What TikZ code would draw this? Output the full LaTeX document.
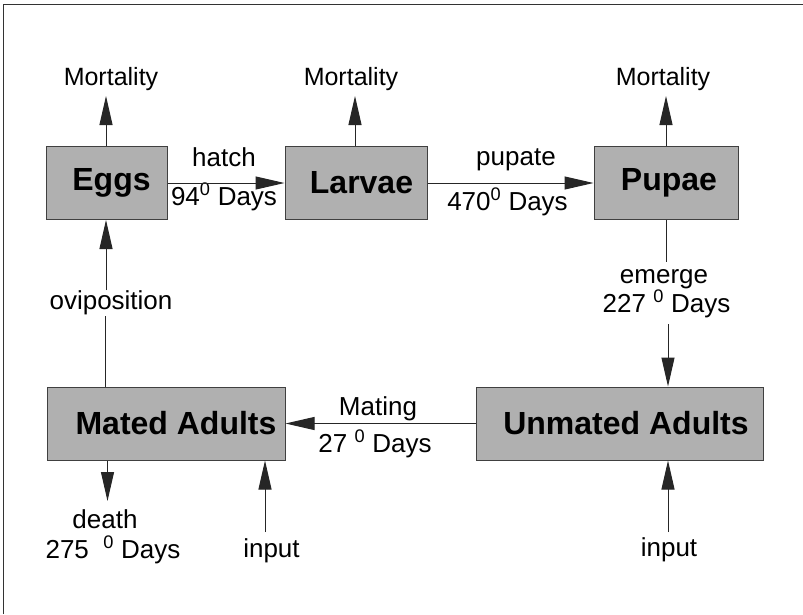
\documentclass[tikz,border=0pt]{standalone}
\usepackage{fontspec}
\setmainfont{Liberation Sans}
\usetikzlibrary{arrows.meta}
\definecolor{boxgray}{gray}{0.69}
\tikzset{
  stagebox/.style={draw=black!75, line width=1pt, fill=boxgray, inner sep=0pt,
    font=\fontsize{32}{36}\selectfont\bfseries},
  lbl/.style={inner sep=0pt, anchor=base, font=\fontsize{26}{30}\selectfont},
  flow/.style={line width=1pt, black!85},
  arr/.style={flow, -{Triangle[length=29pt,width=13pt]}},
}
\newcommand{\degsup}{\textsuperscript{0}}
\begin{document}
\begin{tikzpicture}[x=1pt,y=-1pt]
\useasboundingbox (0,0) rectangle (803,614);
\fill[white] (0,0) rectangle (803,614);
% frame
\draw[black!80, line width=1.5pt] (3.5,614) -- (3.5,4.5) -- (803,4.5);

% boxes
\node[stagebox, minimum width=121pt, minimum height=73pt] (eggs) at (107,183) {\hspace*{9pt}Eggs};
\node[stagebox, minimum width=142pt, minimum height=73pt] (larvae) at (356,183) {\hspace*{11pt}Larvae};
\node[stagebox, minimum width=144pt, minimum height=73pt] (pupae) at (666,183) {\hspace*{6pt}Pupae};
\node[stagebox, minimum width=238pt, minimum height=73pt] (mated) at (166,423.5) {\hspace*{20pt}Mated Adults};
\node[stagebox, minimum width=287pt, minimum height=73pt] (unmated) at (619.5,423.5) {\hspace*{13pt}Unmated Adults};

% labels
\node[lbl, font=\fontsize{25}{30}\selectfont] (m1) at (111,85) {Mortality};
\node[lbl, font=\fontsize{25}{30}\selectfont] (m2) at (351,85) {Mortality};
\node[lbl, font=\fontsize{25}{30}\selectfont] (m3) at (663,85) {Mortality};
\node[lbl] (hatch) at (224,166) {hatch};
\node[lbl] (hatchd) at (224,205) {94\degsup{} Days};
\node[lbl] (pupate) at (516,165) {pupate};
\node[lbl] (pupated) at (507.5,210) {470\degsup{} Days};
\node[lbl] (emerge) at (664,283) {emerge};
\node[lbl] (emerged) at (666.5,312) {227 \degsup{} Days};
\node[lbl] (mating) at (378,415) {Mating};
\node[lbl] (matingd) at (375,452) {27 \degsup{} Days};
\node[lbl] (ovi) at (111,309) {oviposition};
\node[lbl] (death) at (105,528) {death};
\node[lbl] (deathd) at (113,558) {275 \ \degsup{} Days};
\node[lbl] (in1) at (271.5,557) {input};
\node[lbl] (in2) at (669,556) {input};

% free ends
\coordinate (t1) at (106,96);
\coordinate (t2) at (355,96);
\coordinate (t3) at (666,96);
\coordinate (e1) at (666,262);
\coordinate (e2) at (668,324);
\coordinate (o1) at (105,316);
\coordinate (o2) at (106,290);
\coordinate (d1) at (107.5,501);
\coordinate (i1) at (265,532);
\coordinate (i2) at (668,532);

% connectors
\draw[arr] (t1 |- eggs.north) -- (t1);
\draw[arr] (t2 |- larvae.north) -- (t2);
\draw[arr] (t3 |- pupae.north) -- (t3);
\draw[arr] (eggs) -- (larvae);
\draw[arr] (larvae) -- (pupae);
\draw[flow] (e1 |- pupae.south) -- (e1);
\draw[arr] (e2) -- (e2 |- unmated.north);
\draw[arr] (unmated) -- (mated);
\draw[flow] (o1 |- mated.north) -- (o1);
\draw[arr] (o2) -- (o2 |- eggs.south);
\draw[arr] (d1 |- mated.south) -- (d1);
\draw[arr] (i1) -- (i1 |- mated.south);
\draw[arr] (i2) -- (i2 |- unmated.south);
\end{tikzpicture}
\end{document}
